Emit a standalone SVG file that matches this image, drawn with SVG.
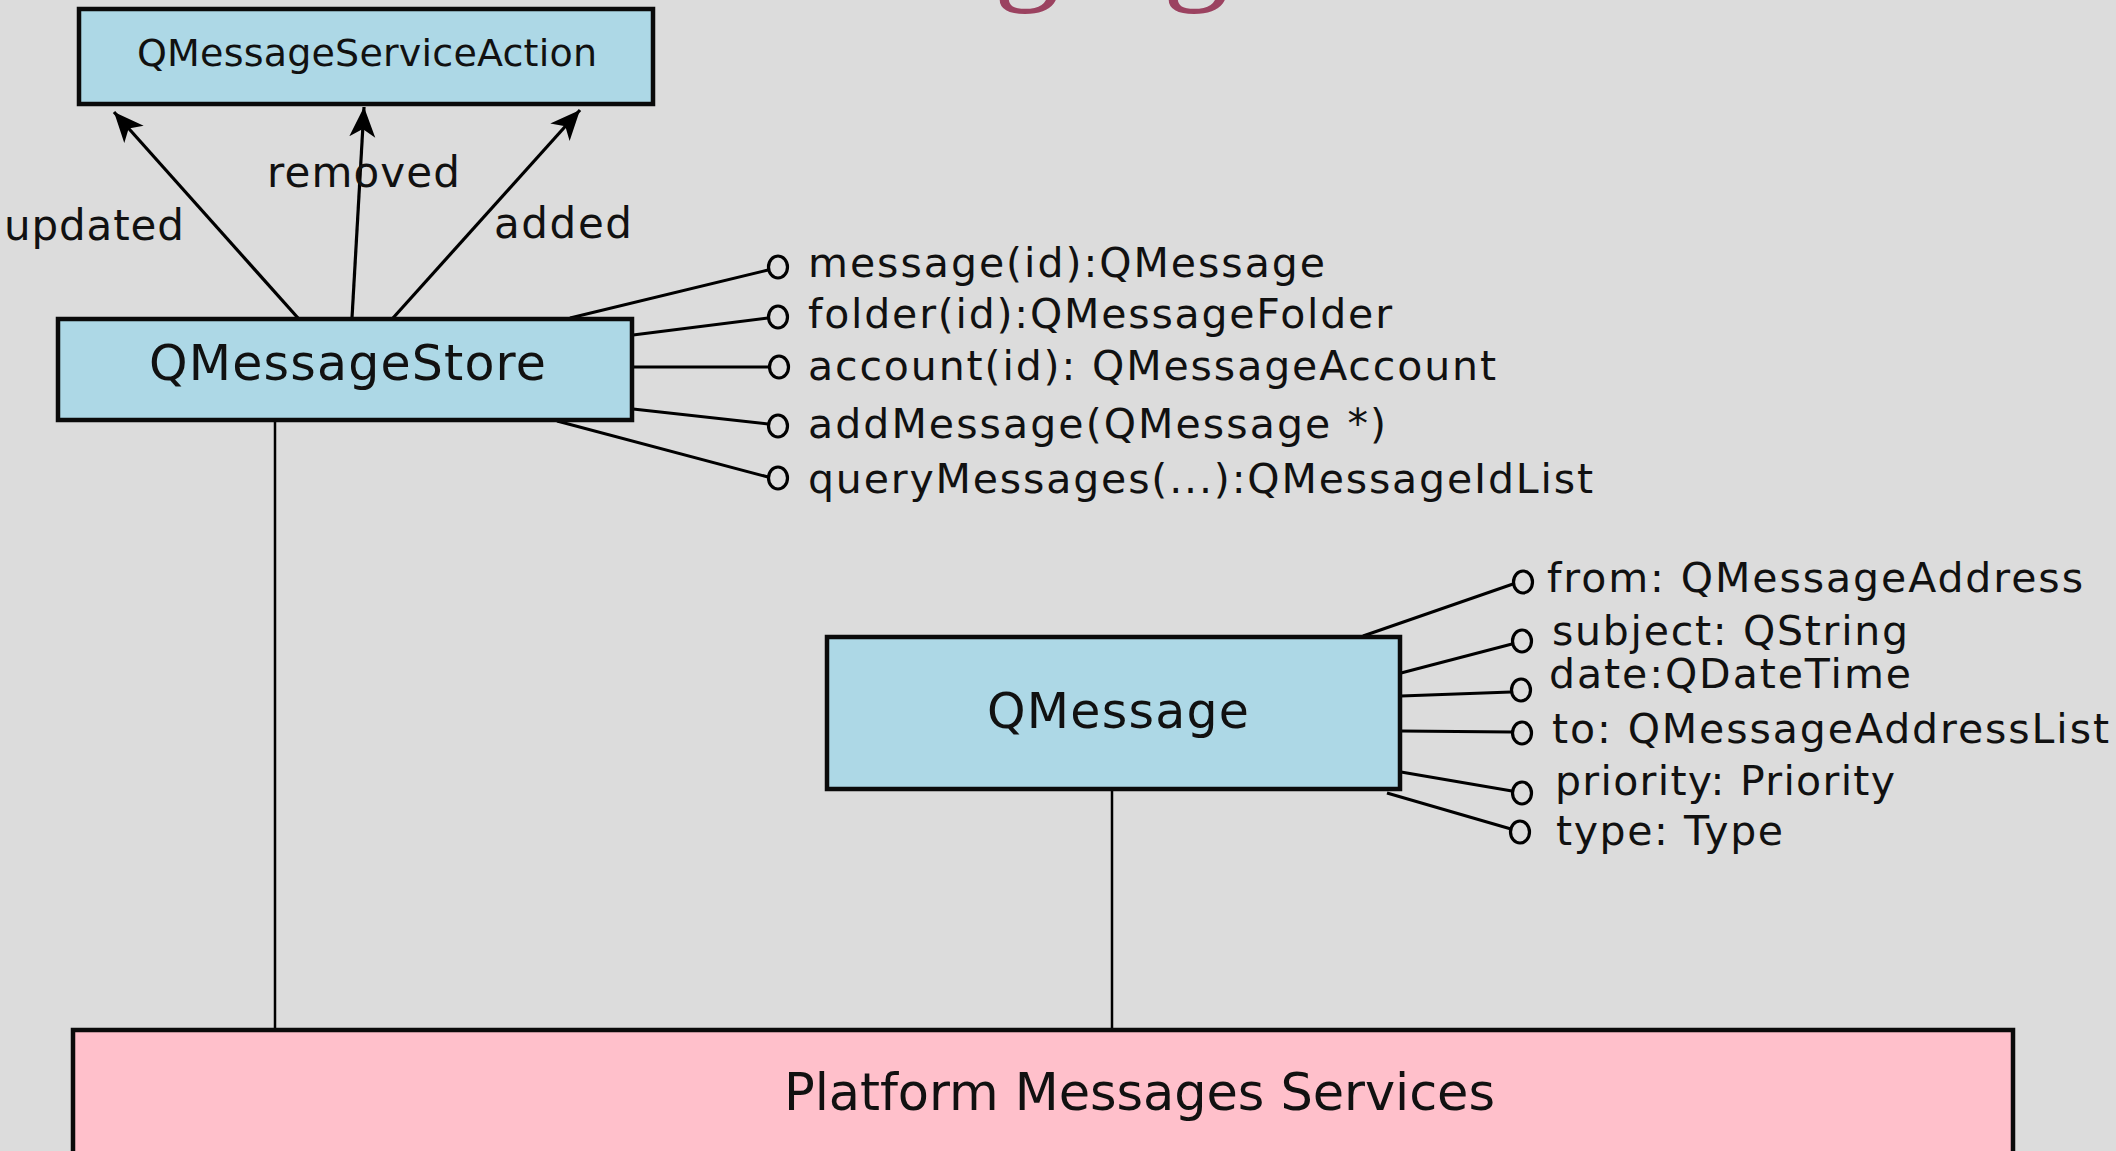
<svg xmlns="http://www.w3.org/2000/svg" width="2116" height="1151" viewBox="0 0 2116 1151">
  <defs>
    <style>
      .bg { fill: #dcdcdc; }
      .cls { fill: #add8e6; stroke: #0a0a0a; stroke-width: 4.5; }
      .plat { fill: #ffc0cb; stroke: #0a0a0a; stroke-width: 4.5; }
      .t { font-family: "DejaVu Sans", "Liberation Sans", sans-serif; fill: #111; }
      .name { font-size: 49px; text-anchor: start; }
      .attr { font-size: 41px; }
      .lbl { font-size: 42px; }
      .ln { stroke: #000; stroke-width: 3; fill: none; }
      .vl { stroke: #000; stroke-width: 2.5; fill: none; }
      .pin { fill: #dcdcdc; stroke: #000; stroke-width: 3.2; }
      .arr { stroke: #000; stroke-width: 3.2; fill: none; marker-end: url(#head); }
      .title { font-family: "Liberation Serif", "DejaVu Serif", serif; font-size: 132px; fill: #9b4260; }
    </style>
    <marker id="head" markerUnits="userSpaceOnUse" markerWidth="34" markerHeight="30" refX="30" refY="13" orient="auto">
      <path d="M0,0 L30,13 L0,26 L8,13 Z" fill="#000"/>
    </marker>
  </defs>

  <rect class="bg" x="0" y="0" width="2116" height="1151"/>

  <g id="title">
    <text class="title" x="994" y="-14">g</text>
    <text class="title" x="1163" y="-14">g</text>
  </g>

  <g id="connectors">
    <!-- signals -->
    <line class="arr" x1="298" y1="318" x2="114" y2="112"/>
    <line class="arr" x1="352" y1="318" x2="364" y2="107"/>
    <line class="arr" x1="393" y1="318" x2="580" y2="110"/>
    <!-- vertical links to platform -->
    <line class="vl" x1="275" y1="421" x2="275" y2="1029"/>
    <line class="vl" x1="1112" y1="790" x2="1112" y2="1029"/>
    <!-- store interface -->
    <line class="ln" x1="570" y1="318" x2="768" y2="270"/>
    <line class="ln" x1="633" y1="335" x2="768" y2="318"/>
    <line class="ln" x1="633" y1="367" x2="769" y2="367"/>
    <line class="ln" x1="633" y1="409" x2="768" y2="424"/>
    <line class="ln" x1="557" y1="421" x2="768" y2="477"/>
    <ellipse class="pin" cx="778" cy="267" rx="9.5" ry="11"/>
    <ellipse class="pin" cx="778" cy="317" rx="9.5" ry="11"/>
    <ellipse class="pin" cx="779" cy="367" rx="9.5" ry="11"/>
    <ellipse class="pin" cx="778" cy="426" rx="9.5" ry="11"/>
    <ellipse class="pin" cx="778" cy="478" rx="9.5" ry="11"/>
    <!-- message interface -->
    <line class="ln" x1="1363" y1="636" x2="1513" y2="584"/>
    <line class="ln" x1="1401" y1="673" x2="1512" y2="644"/>
    <line class="ln" x1="1401" y1="696" x2="1511" y2="692"/>
    <line class="ln" x1="1401" y1="731" x2="1512" y2="732"/>
    <line class="ln" x1="1401" y1="772" x2="1512" y2="791"/>
    <line class="ln" x1="1387" y1="793" x2="1511" y2="829"/>
    <ellipse class="pin" cx="1523" cy="582" rx="9.5" ry="11"/>
    <ellipse class="pin" cx="1522" cy="641" rx="9.5" ry="11"/>
    <ellipse class="pin" cx="1521" cy="690" rx="9.5" ry="11"/>
    <ellipse class="pin" cx="1522" cy="733" rx="9.5" ry="11"/>
    <ellipse class="pin" cx="1522" cy="793" rx="9.5" ry="11"/>
    <ellipse class="pin" cx="1520" cy="832" rx="9.5" ry="11"/>
  </g>

  <g id="signal-labels">
    <text class="t lbl" x="4" y="240" textLength="180">updated</text>
    <text class="t lbl" x="267" y="187" textLength="193">removed</text>
    <text class="t lbl" x="494" y="238" textLength="138">added</text>
  </g>

  <g id="QMessageServiceAction">
    <rect class="cls" x="79" y="9" width="574" height="95"/>
    <text class="t" x="137" y="66" font-size="38" textLength="460">QMessageServiceAction</text>
  </g>

  <g id="QMessageStore">
    <rect class="cls" x="58" y="319" width="574" height="101"/>
    <text class="t name" x="149" y="380" font-size="48" textLength="397">QMessageStore</text>
  </g>

  <g id="store-members">
    <text class="t attr" x="808" y="277" textLength="517">message(id):QMessage</text>
    <text class="t attr" x="808" y="328" textLength="584">folder(id):QMessageFolder</text>
    <text class="t attr" x="808" y="380" textLength="688">account(id): QMessageAccount</text>
    <text class="t attr" x="808" y="438" textLength="578">addMessage(QMessage *)</text>
    <text class="t attr" x="808" y="493" textLength="785">queryMessages(...):QMessageIdList</text>
  </g>

  <g id="QMessage">
    <rect class="cls" x="827" y="637" width="573" height="152"/>
    <text class="t name" x="987" y="728" font-size="50" textLength="262">QMessage</text>
  </g>

  <g id="message-members">
    <text class="t attr" x="1547" y="592" textLength="536">from: QMessageAddress</text>
    <text class="t attr" x="1552" y="645" textLength="356">subject: QString</text>
    <text class="t attr" x="1549" y="688" textLength="362">date:QDateTime</text>
    <text class="t attr" x="1552" y="743" textLength="557">to: QMessageAddressList</text>
    <text class="t attr" x="1555" y="795" textLength="340">priority: Priority</text>
    <text class="t attr" x="1556" y="845" textLength="227">type: Type</text>
  </g>

  <g id="PlatformMessagesServices">
    <rect class="plat" x="73" y="1030" width="1940" height="130"/>
    <text class="t" x="784" y="1110" font-size="51" textLength="711">Platform Messages Services</text>
  </g>
</svg>
